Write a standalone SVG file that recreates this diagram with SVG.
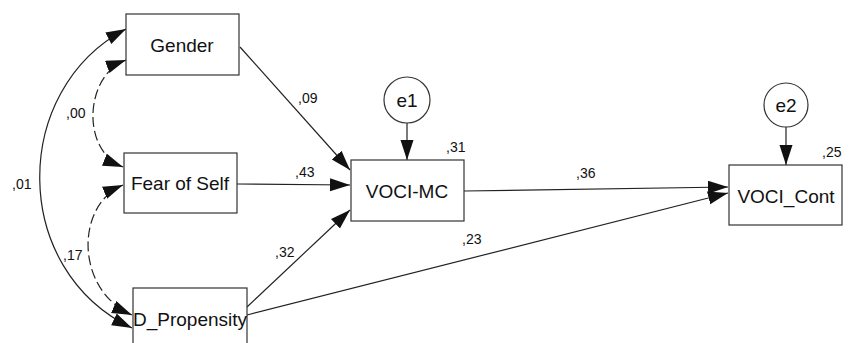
<svg xmlns="http://www.w3.org/2000/svg" width="851" height="343" viewBox="0 0 851 343">
<defs>
<marker id="ah" markerUnits="userSpaceOnUse" markerWidth="22" markerHeight="14" refX="20" refY="6.5" orient="auto-start-reverse">
<path d="M0,0 L20,6.5 L0,13 Z" fill="#111"/>
</marker>
<style>
.box{fill:#fff;stroke:#333;stroke-width:1.2}
.lbl{font-family:"Liberation Sans",Arial,sans-serif;font-size:19px;fill:#111;text-anchor:middle}
.num{font-family:"Liberation Sans",Arial,sans-serif;font-size:14px;fill:#111}
.ln{fill:none;stroke:#222;stroke-width:1.2}
.dash{stroke-dasharray:10 4}
</style>
</defs>
<rect width="851" height="343" fill="#fff"/>
<g id="connectors">
<path class="ln" d="M240,47 L350,170" marker-end="url(#ah)"/>
<path class="ln" d="M237,184 L350,185" marker-end="url(#ah)"/>
<path class="ln" d="M247,307 L350,210" marker-end="url(#ah)"/>
<path class="ln" d="M247,315 L728,193" marker-end="url(#ah)"/>
<path class="ln" d="M464,191 L728,187" marker-end="url(#ah)"/>
<path class="ln" d="M407,123 L407,160" marker-end="url(#ah)"/>
<path class="ln" d="M786,127 L786,165" marker-end="url(#ah)"/>
<path class="ln" d="M126,29 C10,90 10,270 132,328" marker-start="url(#ah)" marker-end="url(#ah)"/>
<path class="ln dash" d="M126,60 C85,75 80,150 123,167" marker-start="url(#ah)" marker-end="url(#ah)"/>
<path class="ln dash" d="M123,185 C75,205 75,290 132,315" marker-start="url(#ah)" marker-end="url(#ah)"/>
<text class="num" x="298" y="103">,09</text>
<text class="num" x="295" y="177">,43</text>
<text class="num" x="275" y="257">,32</text>
<text class="num" x="462" y="244">,23</text>
<text class="num" x="576" y="178">,36</text>
<text class="num" x="66" y="118">,00</text>
<text class="num" x="12" y="189">,01</text>
<text class="num" x="63" y="260">,17</text>
</g>
<g id="gender"><rect class="box" x="126" y="14" width="113" height="61"/><text class="lbl" x="182" y="52">Gender</text></g>
<g id="fear"><rect class="box" x="124" y="153" width="113" height="60"/><text class="lbl" x="180" y="190">Fear of Self</text></g>
<g id="dprop"><rect class="box" x="133" y="288" width="114" height="62"/><text class="lbl" x="190" y="326">D_Propensity</text></g>
<g id="vocimc"><rect class="box" x="351" y="160" width="113" height="61"/><text class="lbl" x="407" y="198">VOCI-MC</text><text class="num" x="446" y="152">,31</text></g>
<g id="vocicont"><rect class="box" x="729" y="165" width="113" height="60"/><text class="lbl" x="786" y="203">VOCI_Cont</text><text class="num" x="822" y="157">,25</text></g>
<g id="e1"><circle class="box" cx="407" cy="100" r="23"/><text class="lbl" x="407" y="107">e1</text></g>
<g id="e2"><circle class="box" cx="786" cy="105" r="22"/><text class="lbl" x="786" y="112">e2</text></g>
</svg>
